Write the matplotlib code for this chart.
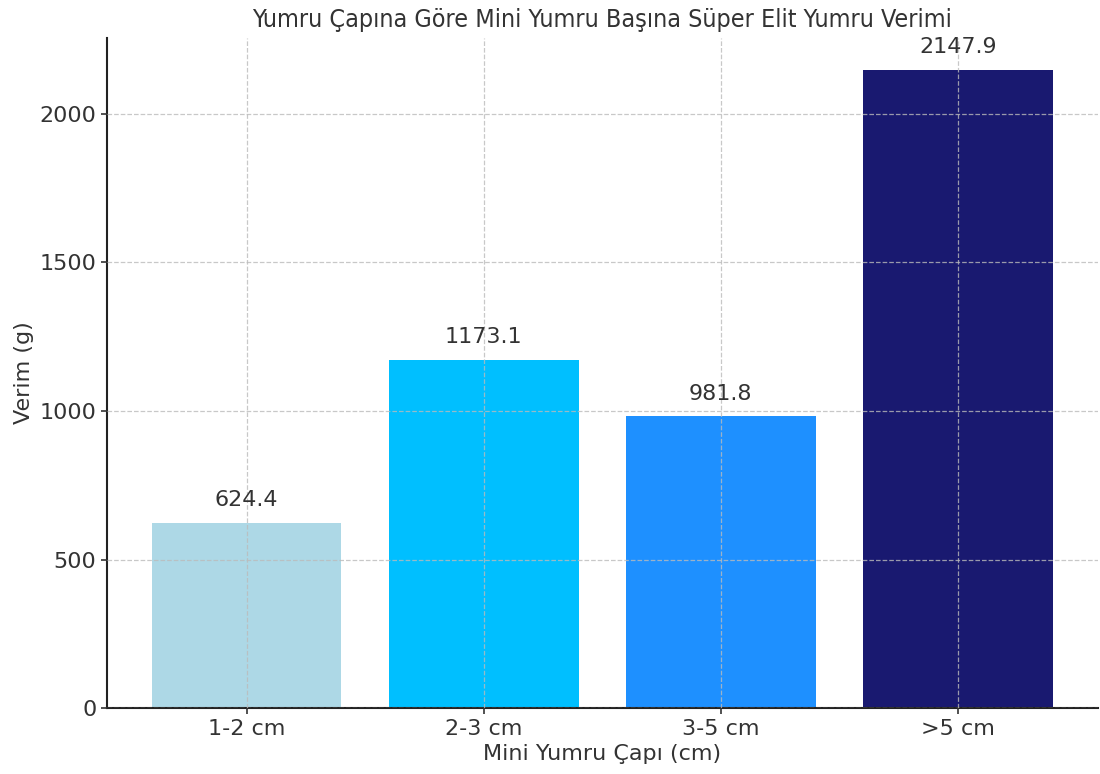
import matplotlib
matplotlib.use("Agg")
import matplotlib.pyplot as plt

# Yield per mini tuber by tuber diameter
sizes = ["1-2 cm", "2-3 cm", "3-5 cm", ">5 cm"]
yields = [624.4, 1173.1, 981.8, 2147.9]
colors = ["lightblue", "deepskyblue", "dodgerblue", "midnightblue"]

text_color = "#333333"

plt.rcParams.update({
    "font.family": "DejaVu Sans",
    "font.size": 16,
    "text.color": text_color,
    "axes.labelcolor": text_color,
    "xtick.color": text_color,
    "ytick.color": text_color,
})

fig, ax = plt.subplots(figsize=(11, 7.74), dpi=100)
fig.subplots_adjust(left=0.097, right=0.998, top=0.951, bottom=0.085)

bars = ax.bar(sizes, yields, color=colors, width=0.8)

for bar, val in zip(bars, yields):
    ax.text(bar.get_x() + bar.get_width() / 2, val + 42, f"{val:.1f}",
            ha="center", va="bottom", fontsize=16)

ax.set_title("Yumru Çapına Göre Mini Yumru Başına Süper Elit Yumru Verimi",
             fontsize=18, fontstretch="condensed", pad=8)
ax.set_xlabel("Mini Yumru Çapı (cm)", labelpad=4)
ax.set_ylabel("Verim (g)", labelpad=4)

ax.grid(True, linestyle="--", color="#bbbbbb", linewidth=0.9, alpha=0.8)
ax.set_axisbelow(False)
ax.spines["top"].set_visible(False)
ax.spines["right"].set_visible(False)
for s in ("left", "bottom"):
    ax.spines[s].set_linewidth(1.5)
    ax.spines[s].set_color("#222222")
ax.tick_params(width=1.2, length=4)

plt.savefig("out.png")
